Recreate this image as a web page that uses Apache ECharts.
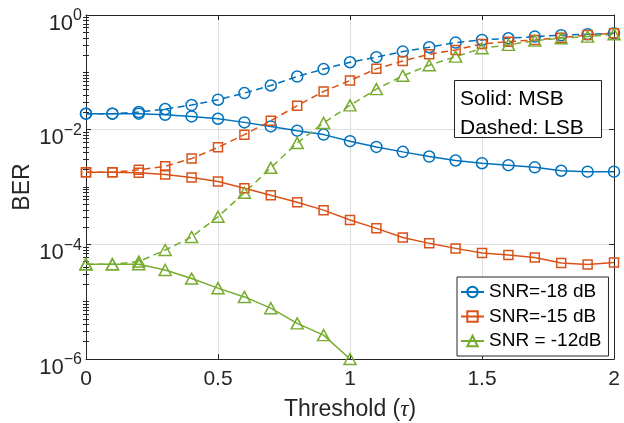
<!DOCTYPE html>
<html>
<head>
<meta charset="utf-8">
<script src="https://cdn.jsdelivr.net/npm/echarts@6/dist/echarts.min.js"></script>
<style>
  html, body { margin: 0; padding: 0; background: #ffffff; }
  #chart { width: 624px; height: 423px; }
</style>
</head>
<body>
<div id="chart"></div>
<script>
// Threshold values (tau) on the x axis
const thresholds = [0, 0.1, 0.2, 0.3, 0.4, 0.5, 0.6, 0.7, 0.8, 0.9, 1.0,
                    1.1, 1.2, 1.3, 1.4, 1.5, 1.6, 1.7, 1.8, 1.9, 2.0];

// SNR = -18 dB
const msbSnr18 = [0.0190, 0.0190, 0.0190, 0.0182, 0.0170, 0.0155, 0.0134, 0.0114, 0.0096, 0.0082, 0.0063,
                  0.0050, 0.0041, 0.0034, 0.0029, 0.0026, 0.0024, 0.0022, 0.00192, 0.00185, 0.00185];
const lsbSnr18 = [0.0190, 0.0190, 0.0203, 0.0229, 0.0269, 0.0333, 0.0435, 0.0589, 0.0845, 0.114, 0.150,
                  0.184, 0.230, 0.274, 0.330, 0.367, 0.393, 0.420, 0.444, 0.462, 0.481];

// SNR = -15 dB
const msbSnr15 = [0.00181, 0.00181, 0.00177, 0.00165, 0.00146, 0.00125, 0.000953, 0.000720, 0.000544, 0.000395, 0.000265,
                  0.000190, 0.000132, 0.000104, 0.0000850, 0.0000706, 0.0000652, 0.0000587, 0.0000473, 0.0000444, 0.0000481];
const lsbSnr15 = [0.00181, 0.00181, 0.00199, 0.00230, 0.00313, 0.00492, 0.00819, 0.0143, 0.0262, 0.0464, 0.0720,
                  0.115, 0.158, 0.207, 0.246, 0.313, 0.343, 0.367, 0.403, 0.449, 0.481];

// SNR = -12 dB (MSB error rate reaches zero beyond tau = 1)
const msbSnr12 = [4.5e-5, 4.5e-5, 4.5e-5, 3.57e-5, 2.53e-5, 1.72e-5, 1.21e-5, 7.7e-6, 4.18e-6, 2.61e-6, 1.0e-6];
const lsbSnr12 = [4.5e-5, 4.5e-5, 5.0e-5, 7.96e-5, 1.34e-4, 3.03e-4, 7.93e-4, 0.00216, 0.00587, 0.0131, 0.0265,
                  0.051, 0.087, 0.133, 0.188, 0.263, 0.301, 0.357, 0.393, 0.420, 0.462];

// Axis ticks
const xTicks = [0, 0.5, 1, 1.5, 2];
const yMajorTicks = [1e-6, 1e-4, 1e-2, 1];
const yMinorTicks = [];
for (let e = -6; e < 0; e++) {
  for (let m = 2; m <= 10; m++) {
    const v = m * Math.pow(10, e);
    if (!yMajorTicks.some(t => Math.abs(t - v) / t < 1e-9)) yMinorTicks.push(v);
  }
}

const legendNames = ['SNR=-18 dB', 'SNR=-15 dB', 'SNR = -12dB'];

const FONT = '"Liberation Sans", Arial, Helvetica, sans-serif';
const AXIS_COLOR = '#262626';
const GRID_COLOR = '#dfdfdf';
const BLUE = '#0072BD', ORANGE = '#D95319', GREEN = '#77AC30';
const DASH = [7, 4.5];

function pairs(values) {
  return values.map((v, i) => [thresholds[i], v]);
}

function makeSeries(name, values, color, symbol, size, dashed) {
  return {
    name: name,
    type: 'line',
    data: pairs(values),
    xAxisIndex: 0,
    yAxisIndex: 0,
    symbol: symbol,
    symbolSize: size,
    showAllSymbol: true,
    clip: false,
    lineStyle: { color: color, width: 1.5, type: dashed ? DASH : 'solid' },
    itemStyle: { color: 'rgba(255,255,255,0)', borderColor: color, borderWidth: 1.5 },
    emphasis: { disabled: true },
    animation: false
  };
}

function logAxis(position, ticks, tickLen, opts) {
  return Object.assign({
    type: 'log',
    logBase: 10,
    min: 1e-6,
    max: 1,
    position: position,
    gridIndex: 0,
    axisLine: { show: false },
    axisTick: { show: true, inside: true, length: tickLen, customValues: ticks,
                lineStyle: { color: AXIS_COLOR, width: 1 } },
    axisLabel: { show: false },
    splitLine: { show: false },
    minorTick: { show: false },
    minorSplitLine: { show: false }
  }, opts || {});
}

const chart = echarts.init(document.getElementById('chart'), null, { renderer: 'canvas' });

const option = {
  animation: false,
  backgroundColor: '#ffffff',
  grid: { left: 86, right: 10, top: 15, bottom: 64, containLabel: false, outerBoundsMode: 'none' },
  xAxis: [
    {
      type: 'value', min: 0, max: 2, interval: 0.5, position: 'bottom',
      axisLine: { show: true, onZero: false, lineStyle: { color: AXIS_COLOR, width: 1 } },
      axisTick: { show: true, inside: true, length: 5, lineStyle: { color: AXIS_COLOR } },
      axisLabel: { show: true, margin: 10, color: AXIS_COLOR, fontSize: 21, fontFamily: FONT,
                   customValues: xTicks },
      splitLine: { show: true, lineStyle: { color: GRID_COLOR, width: 1 } },
      name: '{n|Threshold (}{t|τ}{n|)}',
      nameLocation: 'middle',
      nameGap: 39,
      nameMoveOverlap: false,
      nameTextStyle: {
        color: AXIS_COLOR, fontSize: 23, fontFamily: FONT,
        rich: {
          n: { color: AXIS_COLOR, fontSize: 23, fontFamily: FONT },
          t: { color: AXIS_COLOR, fontSize: 23, fontFamily: '"Liberation Serif", "DejaVu Serif", serif', fontStyle: 'italic' }
        }
      }
    },
    {
      type: 'value', min: 0, max: 2, interval: 0.5, position: 'top', gridIndex: 0,
      axisLine: { show: true, onZero: false, lineStyle: { color: AXIS_COLOR, width: 1 } },
      axisTick: { show: true, inside: true, length: 5, lineStyle: { color: AXIS_COLOR } },
      axisLabel: { show: false },
      splitLine: { show: false }
    }
  ],
  yAxis: [
    logAxis('left', yMajorTicks, 5, {
      axisLine: { show: true, onZero: false, lineStyle: { color: AXIS_COLOR, width: 1 } },
      axisLabel: {
        show: true,
        customValues: yMajorTicks,
        margin: 4,
        formatter: function (v) {
          const e = Math.round(Math.log10(v));
          return '{b|10}{s|' + String(e).replace('-', '\u2212') + '}';
        },
        rich: {
          b: { fontSize: 22, fontFamily: FONT, color: AXIS_COLOR, padding: [17, 0, 0, 0] },
          s: { fontSize: 16, fontFamily: FONT, color: AXIS_COLOR, padding: [2, 0, 0, 0] }
        }
      },
      splitLine: { show: true, lineStyle: { color: GRID_COLOR, width: 1 } },
      name: 'BER',
      nameLocation: 'middle',
      nameGap: 52,
      nameMoveOverlap: false,
      nameTextStyle: { color: AXIS_COLOR, fontSize: 23, fontFamily: FONT }
    }),
    logAxis('left', yMinorTicks, 3),
    logAxis('right', yMajorTicks, 5, {
      axisLine: { show: true, onZero: false, lineStyle: { color: AXIS_COLOR, width: 1 } }
    }),
    logAxis('right', yMinorTicks, 3)
  ],
  legend: {
    data: legendNames,
    orient: 'vertical',
    left: 457,
    top: 277,
    padding: [5, 7, 5, 3],
    itemWidth: 23,
    itemHeight: 13,
    itemGap: 4.5,
    backgroundColor: '#ffffff',
    borderColor: AXIS_COLOR,
    borderWidth: 1,
    borderRadius: 0,
    selectedMode: false,
    textStyle: { color: '#000000', fontSize: 19, fontFamily: FONT, lineHeight: 20 }
  },
  graphic: [
    {
      type: 'rect', z: 100,
      shape: { x: 454.5, y: 80.5, width: 147, height: 57 },
      style: { fill: '#ffffff', stroke: AXIS_COLOR, lineWidth: 1 }
    },
    {
      type: 'text', z: 101, x: 460, y: 99.5,
      style: { text: 'Solid: MSB', font: '21px ' + FONT, fill: '#000000', verticalAlign: 'middle', align: 'left' }
    },
    {
      type: 'text', z: 101, x: 460, y: 128.5,
      style: { text: 'Dashed: LSB', font: '21px ' + FONT, fill: '#000000', verticalAlign: 'middle', align: 'left' }
    }
  ],
  series: [
    makeSeries(legendNames[0], msbSnr18, BLUE, 'circle', 11, false),
    makeSeries('LSB, SNR=-18 dB', lsbSnr18, BLUE, 'circle', 11, true),
    makeSeries(legendNames[1], msbSnr15, ORANGE, 'rect', 9, false),
    makeSeries('LSB, SNR=-15 dB', lsbSnr15, ORANGE, 'rect', 9, true),
    makeSeries(legendNames[2], msbSnr12, GREEN, 'triangle', [12, 11], false),
    makeSeries('LSB, SNR = -12dB', lsbSnr12, GREEN, 'triangle', [12, 11], true)
  ]
};

chart.setOption(option);
</script>
</body>
</html>
